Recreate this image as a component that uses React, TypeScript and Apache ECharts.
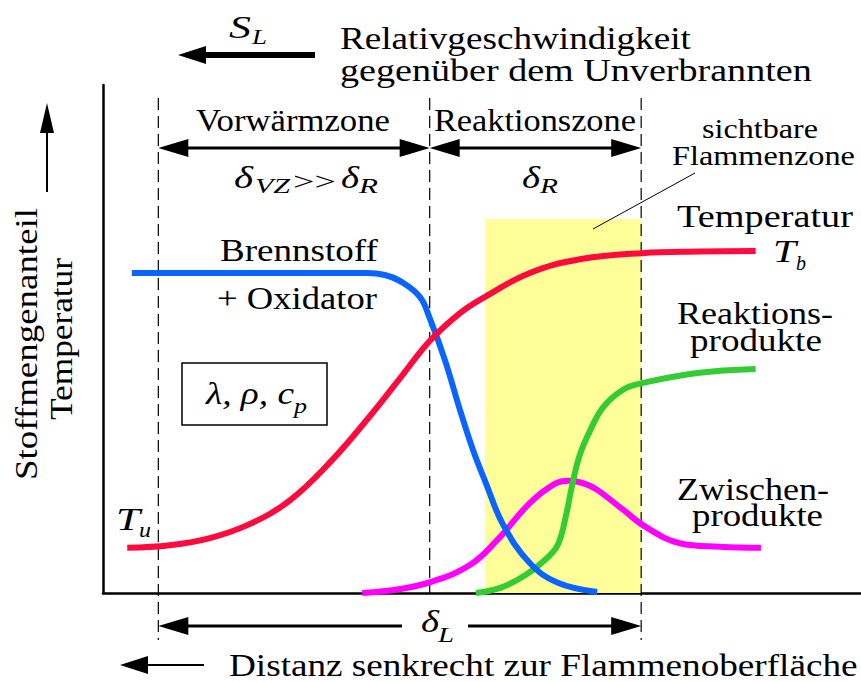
import React, { useEffect, useRef } from "react";
import * as echarts from "echarts";

const FONT = "serif";

// x: distance (0..100 arbitrary units), y: mole fraction / temperature (0..100)
const temperaturX = [3.2, 8.8, 14.1, 19.4, 24.7, 30.0, 35.2, 39.2, 43.1, 47.1, 50.4, 56.3, 62.9, 71.1, 78.8, 86.1];
const temperaturY = [8.9, 9.4, 10.8, 13.6, 18.3, 25.8, 34.8, 42.3, 49.6, 55.1, 58.3, 63.0, 65.7, 66.9, 67.2, 67.3];

const brennstoffX = [3.8, 30.0, 34.8, 37.2, 39.2, 41.8, 43.1, 45.1, 47.1, 48.8, 50.5, 52.8, 56.3, 60.0, 65.2];
const brennstoffY = [63.0, 63.0, 63.0, 62.6, 61.4, 58.3, 54.1, 45.9, 36.0, 28.2, 21.7, 13.4, 5.9, 2.0, 0.2];

const produkteX = [49.2, 52.4, 55.7, 58.3, 60.0, 61.1, 61.9, 62.9, 64.3, 66.0, 68.6, 71.1, 78.4, 86.1];
const produkteY = [0.0, 1.0, 3.5, 6.5, 9.5, 15.4, 21.3, 27.2, 32.1, 36.6, 40.0, 41.3, 43.3, 44.1];

const zwischenX = [34.2, 39.2, 43.3, 48.4, 52.0, 56.3, 59.6, 61.5, 63.6, 65.2, 68.7, 71.6, 76.1, 81.4, 86.8];
const zwischenY = [0.0, 0.8, 2.2, 5.5, 10.4, 17.7, 21.5, 22.1, 21.5, 20.3, 16.3, 13.0, 9.8, 9.1, 8.9];

// zone boundaries (x) and visible flame zone
const zoneLines = [7.3, 43.1, 71.0];
const visibleZone = { from: 50.4, to: 71.0, top: 73.6 };

const zip = (xs: number[], ys: number[]) => xs.map((x, i) => [x, ys[i]]);

let measureCtx: CanvasRenderingContext2D | null = null;
function measure(text: string, size: number, italic: boolean) {
  if (!measureCtx) measureCtx = document.createElement("canvas").getContext("2d");
  if (!measureCtx) return text.length * size * 0.5;
  measureCtx.font = `${italic ? "italic " : ""}${size}px ${FONT}`;
  return measureCtx.measureText(text).width;
}

function head(x: number, y: number, dir: "l" | "r" | "u", len: number, half: number) {
  let pts: number[][];
  if (dir === "l") pts = [[x, y], [x + len, y - half], [x + len, y + half]];
  else if (dir === "r") pts = [[x, y], [x - len, y - half], [x - len, y + half]];
  else pts = [[x, y], [x - half, y + len], [x + half, y + len]];
  return { type: "polygon", z: 20, shape: { points: pts }, style: { fill: "#000" } };
}

function line(x1: number, y1: number, x2: number, y2: number, w: number, dash?: number[], z = 20) {
  return {
    type: "line",
    z,
    shape: { x1, y1, x2, y2 },
    style: { stroke: "#000", lineWidth: w, lineDash: dash },
  };
}

// text fitted between left and right edges (horizontal stretch to mimic the original typeface)
function fit(text: string, left: number, right: number, cy: number, size: number, italic = false) {
  const w = measure(text, size, italic);
  return {
    type: "text",
    z: 30,
    x: left,
    y: cy,
    scaleX: (right - left) / w,
    style: {
      text,
      fill: "#000",
      fontFamily: FONT,
      fontSize: size,
      fontStyle: italic ? "italic" : "normal",
      textAlign: "left",
      align: "left",
      textVerticalAlign: "middle",
      verticalAlign: "middle",
    },
  };
}

// rotated (bottom-to-top) text fitted between y-positions
function vfit(text: string, cx: number, top: number, bottom: number, size: number) {
  const w = measure(text, size, false);
  return {
    type: "text",
    z: 30,
    x: cx,
    y: (top + bottom) / 2,
    rotation: Math.PI / 2,
    scaleX: (bottom - top) / w,
    style: {
      text,
      fill: "#000",
      fontFamily: FONT,
      fontSize: size,
      textAlign: "center",
      align: "center",
      textVerticalAlign: "middle",
      verticalAlign: "middle",
    },
  };
}

export default function App() {
  const ref = useRef<HTMLDivElement>(null);
  useEffect(() => {
    if (!ref.current) return;
    const chart = echarts.init(ref.current, undefined, { renderer: "svg" });
    const lineSeries = (name: string, data: number[][], color: string) => ({
      name,
      type: "line",
      data,
      smooth: 0.4,
      showSymbol: false,
      symbol: "none",
      z: 5,
      lineStyle: { color, width: 6, cap: "butt" },
    });
    chart.setOption({
      animation: false,
      backgroundColor: "#fff",
      textStyle: { fontFamily: FONT },
      grid: { left: 103, right: 0, top: 85, bottom: 89 },
      xAxis: {
        type: "value",
        min: 0,
        max: 100,
        axisLine: { show: true, lineStyle: { color: "#000", width: 2.5 } },
        axisTick: { show: false },
        axisLabel: { show: false },
        splitLine: { show: false },
      },
      yAxis: {
        type: "value",
        min: 0,
        max: 100,
        axisLine: { show: true, lineStyle: { color: "#000", width: 2.5 } },
        axisTick: { show: false },
        axisLabel: { show: false },
        splitLine: { show: false },
      },
      series: [
        {
          ...lineSeries("Zwischenprodukte", zip(zwischenX, zwischenY), "#ff00ff"),
          markArea: {
            silent: true,
            itemStyle: { color: "#ffff99", opacity: 1 },
            data: [[{ xAxis: visibleZone.from, yAxis: 0 }, { xAxis: visibleZone.to, yAxis: visibleZone.top }]],
          },
        },
        lineSeries("Reaktionsprodukte", zip(produkteX, produkteY), "#33cc33"),
        lineSeries("Brennstoff + Oxidator", zip(brennstoffX, brennstoffY), "#0a64ff"),
        lineSeries("Temperatur", zip(temperaturX, temperaturY), "#ff0a3c"),
      ],
    });

    const px = (x: number) => chart.convertToPixel({ gridIndex: 0 }, [x, 0])[0];
    const [xa, xb, xc] = zoneLines.map(px);
    const dash = [12, 6];
    const S = 32; // main font size
    const s = 22; // subscript size

    const g: any[] = [
      // dashed zone boundaries
      line(xa, 98, xa, 640, 1.2, dash, 1),
      line(xb, 98, xb, 593, 1.2, dash, 1),
      line(xc, 98, xc, 640, 1.2, dash, 1),
      // S_L arrow
      fit("S", 229, 251, 27, S, true),
      fit("L", 252, 267, 36, s, true),
      line(200, 55, 315, 55, 6),
      head(178, 55, "l", 28, 9),
      fit("Relativgeschwindigkeit", 340, 691, 38, S),
      fit("gegenüber dem Unverbrannten", 340, 812, 71, S),
      // y axis arrow and label
      line(47, 192, 47, 125, 2),
      head(47, 103, "u", 30, 7),
      vfit("Stoffmengenanteil", 26, 208, 480, S),
      vfit("Temperatur", 61, 258, 420, S),
      // zone titles and double arrows
      fit("Vorwärmzone", 196, 390, 120, S),
      fit("Reaktionszone", 434, 636, 120, S),
      line(xa + 25, 148, xb - 25, 148, 3),
      head(xa, 148, "l", 30, 9),
      head(xb, 148, "r", 30, 9),
      line(xb + 25, 148, xc - 25, 148, 3),
      head(xb, 148, "l", 30, 9),
      head(xc, 148, "r", 30, 9),
      // delta labels
      fit("δ", 234, 253, 177, S, true),
      fit("VZ", 255, 290, 186, s, true),
      fit(">>", 293, 336, 181, 26),
      fit("δ", 341, 359, 177, S, true),
      fit("R", 359, 378, 186, s, true),
      fit("δ", 522, 540, 177, S, true),
      fit("R", 540, 558, 186, s, true),
      // visible flame zone note
      fit("sichtbare", 702, 818, 129, 27),
      fit("Flammenzone", 672, 855, 155, 27),
      line(593, 229, 695, 173, 1),
      // curve labels
      fit("Temperatur", 677, 853, 217, S),
      fit("T", 773, 796, 251, S, true),
      fit("b", 796, 806, 263, s, true),
      fit("Brennstoff", 220, 378, 250, S),
      fit("+ Oxidator", 217, 377, 298, S),
      fit("Reaktions-", 677, 833, 313, S),
      fit("produkte", 690, 822, 340, S),
      fit("Zwischen-", 677, 829, 489, S),
      fit("produkte", 692, 823, 515, S),
      fit("T", 116, 140, 519, S, true),
      fit("u", 139, 151, 529, s, true),
      // property box
      {
        type: "rect",
        z: 20,
        shape: { x: 182, y: 363, width: 145, height: 62 },
        style: { fill: "#fff", stroke: "#000", lineWidth: 1.5 },
      },
      fit("λ, ρ, c", 206, 294, 393, S, true),
      fit("p", 294, 307, 406, s, true),
      // delta L
      line(xa + 25, 626, 402, 626, 3),
      head(xa, 626, "l", 30, 9),
      line(468, 626, xc - 25, 626, 3),
      head(xc, 626, "r", 30, 9),
      fit("δ", 421, 439, 621, S, true),
      fit("L", 438, 454, 635, s, true),
      // bottom
      line(140, 665, 204, 665, 2),
      head(120, 665, "l", 28, 9),
      fit("Distanz senkrecht zur Flammenoberfläche", 229, 858, 665, S),
    ];
    chart.setOption({ graphic: { elements: g } });
    return () => chart.dispose();
  }, []);
  return (
    <div
      ref={ref}
      style={{ position: "fixed", left: 0, top: 0, width: 861, height: 682, background: "#fff" }}
    />
  );
}
